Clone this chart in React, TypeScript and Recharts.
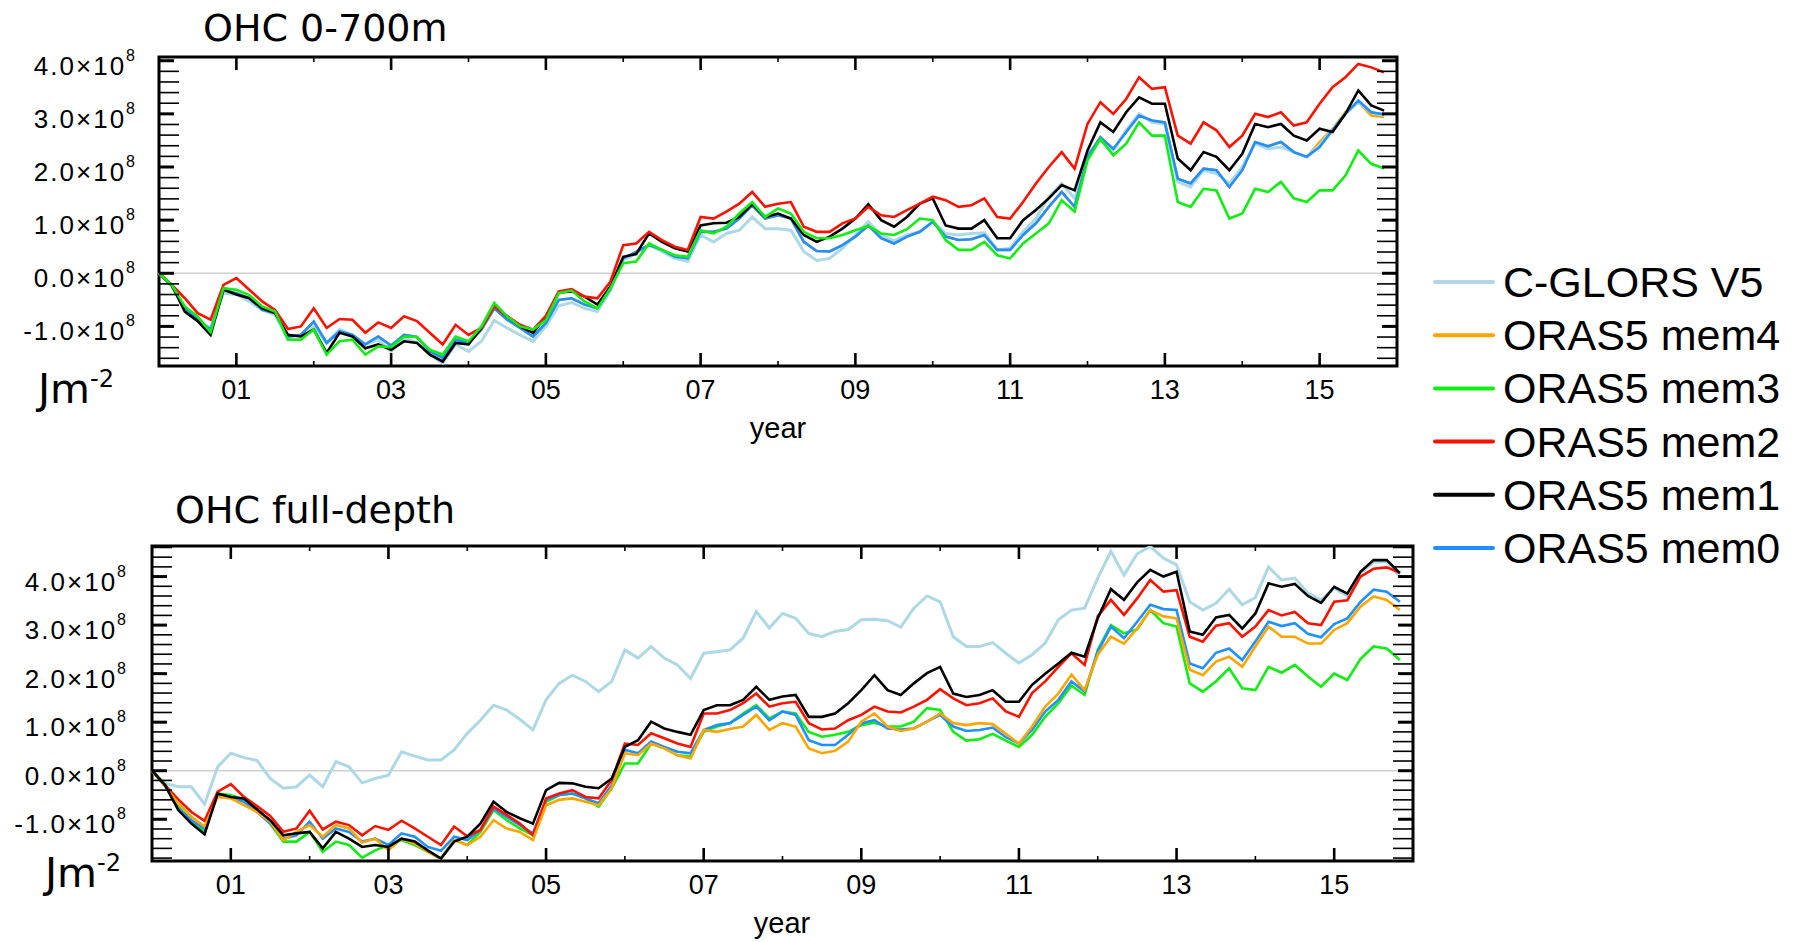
import { LineChart, Line, XAxis, YAxis, ReferenceArea, ReferenceLine } from "recharts";

// monthly-ish sampling grid (every two months, Jan 2000 .. Nov 2015)
const months = Array.from({ length: 96 }, (_, i) => 2000 + i / 6);

const xTicks = [2000, 2001, 2002, 2003, 2004, 2005, 2006, 2007, 2008, 2009, 2010, 2011, 2012, 2013, 2014, 2015, 2016];
const topYTicks = [-1.6, -1.4, -1.2, -1, -0.8, -0.6, -0.4, -0.2, 0, 0.2, 0.4, 0.6, 0.8, 1, 1.2, 1.4, 1.6, 1.8, 2, 2.2, 2.4, 2.6, 2.8, 3, 3.2, 3.4, 3.6, 3.8, 4];
const fullYTicks = [-1.8, -1.6, -1.4, -1.2, -1, -0.8, -0.6, -0.4, -0.2, 0, 0.2, 0.4, 0.6, 0.8, 1, 1.2, 1.4, 1.6, 1.8, 2, 2.2, 2.4, 2.6, 2.8, 3, 3.2, 3.4, 3.6, 3.8, 4, 4.2, 4.4, 4.6];

// OHC 0-700m, units of 1e8 J m-2
const topCglors = [
  0, -0.25, -0.69, -0.9, -1.03, -0.375, -0.4, -0.53, -0.69, -0.78,
  -1.24, -1.25, -1.0, -1.31, -1.06, -1.16, -1.34, -1.25, -1.47, -1.22,
  -1.31, -1.53, -1.69, -1.34, -1.47, -1.28, -0.89, -1.03, -1.16, -1.28,
  -1.0, -0.61, -0.55, -0.66, -0.72, -0.325, 0.25, 0.375, 0.53, 0.41,
  0.28, 0.22, 0.72, 0.59, 0.75, 0.81, 1.06, 0.84, 0.84, 0.81,
  0.41, 0.24, 0.28, 0.47, 0.72, 0.97, 0.72, 0.61, 0.72, 0.78,
  0.97, 0.75, 0.72, 0.75, 0.76, 0.44, 0.47, 0.78, 1.03, 1.44,
  1.69, 1.41, 2.25, 2.5, 2.31, 2.69, 3.0, 2.84, 2.81, 1.72,
  1.625, 1.94, 1.875, 1.69, 2.0, 2.44, 2.34, 2.375, 2.28, 2.19,
  2.41, 2.7, 3.0, 3.22, 3.03, 2.97,
];
const topMem4 = [
  0, -0.24, -0.66, -0.875, -1.06, -0.31, -0.375, -0.47, -0.69, -0.75,
  -1.19, -1.16, -0.91, -1.31, -1.09, -1.16, -1.34, -1.19, -1.36, -1.16,
  -1.2, -1.47, -1.59, -1.25, -1.31, -1.06, -0.66, -0.875, -1.03, -1.19,
  -0.94, -0.5, -0.47, -0.59, -0.66, -0.3, 0.28, 0.4, 0.53, 0.44,
  0.31, 0.28, 0.78, 0.78, 0.84, 1.03, 1.28, 1.03, 1.09, 1.03,
  0.59, 0.42, 0.41, 0.53, 0.69, 0.9, 0.66, 0.56, 0.69, 0.78,
  0.97, 0.69, 0.625, 0.64, 0.72, 0.44, 0.44, 0.72, 0.94, 1.25,
  1.53, 1.25, 2.19, 2.56, 2.34, 2.66, 2.97, 2.875, 2.84, 1.78,
  1.69, 1.97, 1.94, 1.625, 1.94, 2.47, 2.39, 2.47, 2.28, 2.19,
  2.47, 2.72, 3.03, 3.22, 2.97, 2.94,
];
const topMem3 = [
  0, -0.22, -0.625, -0.81, -1.11, -0.28, -0.31, -0.41, -0.625, -0.72,
  -1.25, -1.25, -1.06, -1.53, -1.28, -1.25, -1.53, -1.375, -1.39, -1.19,
  -1.2, -1.44, -1.53, -1.19, -1.28, -1.0, -0.56, -0.81, -1.0, -1.06,
  -0.88, -0.375, -0.325, -0.53, -0.66, -0.28, 0.19, 0.22, 0.56, 0.44,
  0.34, 0.31, 0.81, 0.75, 0.875, 1.125, 1.34, 1.06, 1.22, 1.125,
  0.78, 0.66, 0.66, 0.72, 0.81, 0.89, 0.75, 0.72, 0.83, 1.03,
  1.0, 0.625, 0.44, 0.44, 0.59, 0.34, 0.28, 0.56, 0.75, 0.94,
  1.375, 1.16, 2.125, 2.53, 2.22, 2.44, 2.84, 2.59, 2.59, 1.34,
  1.25, 1.59, 1.56, 1.03, 1.125, 1.59, 1.53, 1.72, 1.41, 1.34,
  1.56, 1.56, 1.84, 2.31, 2.06, 1.97,
];
const topMem2 = [
  0, -0.22, -0.47, -0.75, -0.875, -0.22, -0.09, -0.31, -0.53, -0.69,
  -1.05, -1.0, -0.66, -1.03, -0.86, -0.875, -1.12, -0.925, -1.03, -0.81,
  -0.9, -1.12, -1.34, -0.97, -1.16, -1.03, -0.625, -0.81, -0.97, -1.06,
  -0.8, -0.34, -0.3, -0.44, -0.47, -0.16, 0.53, 0.56, 0.78, 0.625,
  0.5, 0.44, 1.06, 1.03, 1.16, 1.31, 1.53, 1.25, 1.31, 1.34,
  0.875, 0.78, 0.78, 0.94, 1.03, 1.25, 1.09, 1.06, 1.19, 1.31,
  1.44, 1.375, 1.25, 1.28, 1.41, 1.06, 1.03, 1.34, 1.69, 2.0,
  2.28, 1.97, 2.81, 3.22, 3.0, 3.28, 3.69, 3.47, 3.5, 2.59,
  2.44, 2.84, 2.69, 2.375, 2.59, 3.0, 2.94, 3.03, 2.78, 2.84,
  3.19, 3.5, 3.69, 3.94, 3.875, 3.78,
];
const topMem1 = [
  0, -0.22, -0.72, -0.9, -1.16, -0.31, -0.4, -0.47, -0.66, -0.75,
  -1.16, -1.19, -1.06, -1.5, -1.12, -1.19, -1.41, -1.34, -1.44, -1.28,
  -1.31, -1.53, -1.66, -1.31, -1.34, -1.03, -0.6, -0.81, -1.0, -1.12,
  -0.82, -0.36, -0.34, -0.44, -0.59, -0.25, 0.31, 0.36, 0.75, 0.59,
  0.47, 0.41, 0.9, 0.94, 0.95, 1.06, 1.3, 1.06, 1.125, 1.03,
  0.72, 0.59, 0.69, 0.84, 1.03, 1.3, 1.0, 0.875, 1.06, 1.31,
  1.41, 0.9, 0.84, 0.84, 1.0, 0.66, 0.66, 1.0, 1.19, 1.41,
  1.66, 1.56, 2.31, 2.84, 2.66, 3.03, 3.31, 3.19, 3.19, 2.16,
  1.94, 2.28, 2.19, 1.94, 2.25, 2.81, 2.75, 2.81, 2.59, 2.5,
  2.72, 2.66, 3.0, 3.44, 3.16, 3.06,
];
const topMem0 = [
  0, -0.24, -0.66, -0.875, -1.06, -0.31, -0.375, -0.47, -0.69, -0.75,
  -1.19, -1.16, -0.91, -1.31, -1.09, -1.16, -1.34, -1.19, -1.36, -1.16,
  -1.2, -1.47, -1.59, -1.25, -1.31, -1.06, -0.66, -0.875, -1.03, -1.19,
  -0.94, -0.5, -0.47, -0.59, -0.66, -0.3, 0.28, 0.4, 0.53, 0.44,
  0.31, 0.28, 0.78, 0.78, 0.84, 1.03, 1.28, 1.03, 1.09, 1.03,
  0.59, 0.42, 0.41, 0.53, 0.69, 0.9, 0.66, 0.56, 0.69, 0.78,
  0.97, 0.69, 0.625, 0.64, 0.72, 0.44, 0.44, 0.72, 0.94, 1.25,
  1.53, 1.25, 2.19, 2.56, 2.34, 2.66, 2.97, 2.875, 2.84, 1.78,
  1.69, 1.97, 1.94, 1.625, 1.94, 2.47, 2.39, 2.47, 2.28, 2.19,
  2.375, 2.69, 3.0, 3.25, 3.03, 2.99,
];

// OHC full depth, units of 1e8 J m-2
const fullCglors = [
  0, -0.26, -0.33, -0.33, -0.69, 0.08, 0.36, 0.27, 0.21, -0.16,
  -0.36, -0.33, -0.09, -0.33, 0.19, 0.08, -0.25, -0.16, -0.09, 0.39,
  0.3, 0.22, 0.22, 0.43, 0.77, 1.04, 1.35, 1.25, 1.06, 0.84,
  1.46, 1.8, 1.97, 1.84, 1.63, 1.84, 2.49, 2.32, 2.56, 2.32,
  2.18, 1.9, 2.42, 2.45, 2.49, 2.73, 3.28, 2.94, 3.24, 3.14,
  2.83, 2.76, 2.87, 2.91, 3.11, 3.12, 3.09, 2.96, 3.35, 3.6,
  3.48, 2.76, 2.56, 2.56, 2.64, 2.42, 2.22, 2.39, 2.63, 3.11,
  3.31, 3.35, 3.97, 4.52, 4.03, 4.47, 4.62, 4.38, 4.24, 3.48,
  3.31, 3.45, 3.74, 3.42, 3.57, 4.2, 3.93, 3.97, 3.66, 3.52,
  3.76, 3.6, 4.07, 4.3, 4.3, 4.0,
];
const fullMem4 = [
  0, -0.33, -0.67, -0.95, -1.15, -0.54, -0.57, -0.71, -0.85, -1.05,
  -1.43, -1.26, -1.12, -1.36, -1.12, -1.19, -1.48, -1.4, -1.64, -1.4,
  -1.5, -1.67, -1.81, -1.43, -1.53, -1.36, -1.02, -1.19, -1.26, -1.43,
  -0.71, -0.6, -0.57, -0.64, -0.71, -0.36, 0.36, 0.32, 0.56, 0.46,
  0.32, 0.25, 0.84, 0.8, 0.86, 0.91, 1.15, 0.84, 0.98, 0.91,
  0.46, 0.36, 0.41, 0.6, 1.01, 1.18, 0.91, 0.82, 0.87, 1.01,
  1.18, 0.98, 0.94, 0.98, 0.96, 0.76, 0.56, 0.91, 1.32, 1.59,
  1.98, 1.66, 2.39, 2.76, 2.62, 2.93, 3.31, 3.18, 3.14, 2.08,
  1.97, 2.25, 2.35, 2.14, 2.56, 2.97, 2.76, 2.76, 2.62, 2.62,
  2.9, 3.04, 3.38, 3.59, 3.52, 3.31,
];
const fullMem3 = [
  0, -0.28, -0.74, -1.02, -1.26, -0.47, -0.5, -0.6, -0.81, -1.09,
  -1.46, -1.46, -1.26, -1.67, -1.46, -1.53, -1.79, -1.64, -1.53, -1.43,
  -1.53, -1.67, -1.81, -1.43, -1.53, -1.26, -0.81, -1.02, -1.19, -1.33,
  -0.64, -0.5, -0.47, -0.57, -0.74, -0.36, 0.15, 0.15, 0.56, 0.46,
  0.32, 0.29, 0.8, 0.91, 0.98, 1.18, 1.35, 1.08, 1.22, 1.18,
  0.8, 0.7, 0.74, 0.8, 0.94, 0.99, 0.91, 0.91, 1.01, 1.29,
  1.25, 0.8, 0.62, 0.65, 0.76, 0.62, 0.49, 0.74, 1.11, 1.39,
  1.75, 1.56, 2.49, 3.0, 2.83, 2.91, 3.31, 3.04, 2.97, 1.8,
  1.63, 1.84, 2.11, 1.7, 1.66, 2.14, 2.02, 2.18, 1.94, 1.73,
  2.0, 1.87, 2.3, 2.56, 2.52, 2.28,
];
const fullMem2 = [
  0, -0.3, -0.59, -0.85, -1.03, -0.43, -0.275, -0.54, -0.73, -0.93,
  -1.26, -1.19, -0.825, -1.21, -1.05, -1.12, -1.33, -1.14, -1.22, -1.03,
  -1.19, -1.36, -1.53, -1.15, -1.35, -1.22, -0.74, -0.91, -1.09, -1.33,
  -0.57, -0.47, -0.4, -0.54, -0.57, -0.19, 0.56, 0.53, 0.77, 0.67,
  0.56, 0.49, 1.18, 1.18, 1.25, 1.39, 1.59, 1.32, 1.39, 1.42,
  0.98, 0.85, 0.87, 1.04, 1.15, 1.32, 1.22, 1.2, 1.32, 1.46,
  1.68, 1.49, 1.35, 1.39, 1.49, 1.22, 1.11, 1.6, 1.84, 2.14,
  2.42, 2.18, 3.18, 3.52, 3.21, 3.55, 3.93, 3.69, 3.72, 2.76,
  2.66, 2.99, 3.04, 2.76, 2.97, 3.31, 3.2, 3.27, 3.04, 3.0,
  3.48, 3.51, 4.0, 4.16, 4.19, 4.08,
];
const fullMem1 = [
  0, -0.3, -0.81, -1.09, -1.31, -0.47, -0.54, -0.57, -0.8, -1.02,
  -1.33, -1.29, -1.26, -1.6, -1.26, -1.4, -1.57, -1.53, -1.57, -1.4,
  -1.46, -1.64, -1.81, -1.46, -1.36, -1.09, -0.64, -0.85, -0.98, -1.09,
  -0.4, -0.25, -0.26, -0.33, -0.36, -0.16, 0.49, 0.63, 1.01, 0.87,
  0.8, 0.74, 1.25, 1.35, 1.35, 1.46, 1.73, 1.46, 1.53, 1.56,
  1.11, 1.11, 1.18, 1.39, 1.66, 1.97, 1.66, 1.56, 1.8, 2.01,
  2.14, 1.59, 1.52, 1.56, 1.66, 1.42, 1.42, 1.77, 2.0, 2.21,
  2.43, 2.35, 3.14, 3.74, 3.52, 3.88, 4.14, 4.0, 4.1, 2.87,
  2.8, 3.16, 3.21, 2.93, 3.24, 3.86, 3.79, 3.85, 3.6, 3.46,
  3.79, 3.65, 4.1, 4.34, 4.34, 4.07,
];
const fullMem0 = [
  0, -0.3, -0.78, -1.02, -1.19, -0.5, -0.54, -0.64, -0.85, -1.09,
  -1.4, -1.33, -1.05, -1.4, -1.19, -1.26, -1.46, -1.4, -1.53, -1.29,
  -1.36, -1.57, -1.65, -1.36, -1.43, -1.22, -0.78, -0.95, -1.12, -1.29,
  -0.6, -0.5, -0.47, -0.57, -0.67, -0.3, 0.43, 0.36, 0.6, 0.49,
  0.39, 0.36, 0.84, 0.94, 0.98, 1.15, 1.32, 1.04, 1.22, 1.15,
  0.63, 0.53, 0.53, 0.74, 0.98, 1.04, 0.87, 0.85, 0.87, 1.01,
  1.15, 0.91, 0.82, 0.84, 0.89, 0.69, 0.56, 0.84, 1.22, 1.46,
  1.84, 1.63, 2.45, 2.97, 2.73, 3.07, 3.42, 3.33, 3.31, 2.21,
  2.11, 2.43, 2.52, 2.28, 2.66, 3.07, 2.98, 3.04, 2.82, 2.75,
  3.02, 3.14, 3.48, 3.73, 3.69, 3.48,
];

const SERIES = {
  cglors: { name: "C-GLORS V5", color: "#ADD8E6", width: 3 },
  mem4: { name: "ORAS5 mem4", color: "#FFA500", width: 2.6 },
  mem3: { name: "ORAS5 mem3", color: "#11EE11", width: 2.6 },
  mem2: { name: "ORAS5 mem2", color: "#FF1100", width: 2.6 },
  mem1: { name: "ORAS5 mem1", color: "#000000", width: 2.6 },
  mem0: { name: "ORAS5 mem0", color: "#1E90FF", width: 2.6 },
};
type Key = keyof typeof SERIES;
const LEGEND_ORDER: Key[] = ["cglors", "mem4", "mem3", "mem2", "mem1", "mem0"];

const topRows = months.map((t, i) => ({
  t,
  cglors: topCglors[i],
  mem4: topMem4[i],
  mem3: topMem3[i],
  mem2: topMem2[i],
  mem1: topMem1[i],
  mem0: topMem0[i],
}));
const fullRows = months.map((t, i) => ({
  t,
  cglors: fullCglors[i],
  mem4: fullMem4[i],
  mem3: fullMem3[i],
  mem2: fullMem2[i],
  mem1: fullMem1[i],
  mem0: fullMem0[i],
}));

const LABEL_FONT = "'Liberation Sans', Arial, sans-serif";
const TITLE_FONT = "'DejaVu Sans', Verdana, sans-serif";

interface Plot {
  x0: number;
  y0: number;
  width: number;
  height: number;
  left: number;
  right: number;
  top: number;
  bottom: number;
  yMin: number;
  yMax: number;
  yTicks: number[];
  labelGap: number;
}

const TOP: Plot = {
  x0: 0, y0: 0, width: 1420, height: 420,
  left: 159, right: 1397, top: 57, bottom: 366,
  yMin: -1.745, yMax: 4.07, yTicks: topYTicks, labelGap: 22,
};
const FULL: Plot = {
  x0: 0, y0: 480, width: 1430, height: 462,
  left: 152, right: 1413, top: 66, bottom: 381,
  yMin: -1.86, yMax: 4.63, yTicks: fullYTicks, labelGap: 24,
};

// year ticks on bottom and top edges, labels on odd years
function XTick(props: any) {
  const { plot, payload } = props;
  const v = payload.value as number;
  const cx = props.x as number;
  if (v <= 2000 || v >= 2016) return <g />;
  const major = v % 2 === 1;
  const len = major ? 13 : 5;
  const w = major ? 2.6 : 1.6;
  return (
    <g>
      <line x1={cx} x2={cx} y1={plot.bottom} y2={plot.bottom - len} stroke="#000" strokeWidth={w} />
      <line x1={cx} x2={cx} y1={plot.top} y2={plot.top + len} stroke="#000" strokeWidth={w} />
      {major && (
        <text x={cx} y={plot.bottom + 33} textAnchor="middle" fontSize={27} fontFamily={LABEL_FONT} fill="#000">
          {String(v - 2000).padStart(2, "0")}
        </text>
      )}
    </g>
  );
}

// value ticks on both sides, scientific labels on whole numbers
function YTick(props: any) {
  const { plot, payload } = props;
  const v = payload.value as number;
  const cy = props.y as number;
  const major = Math.abs(v - Math.round(v)) < 1e-6;
  const len = major ? 15 : 20;
  const w = major ? 3 : 1.6;
  return (
    <g>
      <line x1={plot.left} x2={plot.left + len} y1={cy} y2={cy} stroke="#000" strokeWidth={w} />
      <line x1={plot.right} x2={plot.right - len} y1={cy} y2={cy} stroke="#000" strokeWidth={w} />
      {major && (
        <text
          x={plot.left - plot.labelGap}
          y={cy + 14}
          textAnchor="end"
          fontSize={26}
          letterSpacing={2}
          fontFamily={LABEL_FONT}
          fill="#000"
        >
          {`${(Math.abs(v) < 1e-9 ? 0 : v).toFixed(1)}×10`}
          <tspan dy={-14} fontSize={16}>8</tspan>
        </text>
      )}
    </g>
  );
}

function OhcPanel({ rows, plot, order }: { rows: any[]; plot: Plot; order: Key[] }) {
  const margin = {
    top: plot.top,
    left: plot.left - 1,
    right: plot.width - plot.right,
    bottom: plot.height - plot.bottom - 1,
  };
  return (
    <div style={{ position: "absolute", left: plot.x0, top: plot.y0 }}>
      <LineChart width={plot.width} height={plot.height} data={rows} margin={margin}>
        <XAxis
          dataKey="t"
          type="number"
          domain={[2000, 2016]}
          ticks={xTicks}
          interval={0}
          height={1}
          axisLine={false}
          tickLine={false}
          tick={<XTick plot={plot} />}
        />
        <YAxis
          type="number"
          domain={[plot.yMin, plot.yMax]}
          allowDataOverflow
          ticks={plot.yTicks}
          interval={0}
          width={1}
          axisLine={false}
          tickLine={false}
          tick={<YTick plot={plot} />}
        />
        <ReferenceLine y={0} stroke="#cfcfcf" strokeWidth={1.5} />
        {order.map((k) => (
          <Line
            key={k}
            type="linear"
            dataKey={k}
            name={SERIES[k].name}
            stroke={SERIES[k].color}
            strokeWidth={SERIES[k].width}
            dot={false}
            activeDot={false}
            isAnimationActive={false}
          />
        ))}
        <ReferenceArea
          x1={2000}
          x2={2016}
          y1={plot.yMin}
          y2={plot.yMax}
          fill="none"
          fillOpacity={0}
          stroke="#000"
          strokeWidth={3}
          ifOverflow="visible"
        />
      </LineChart>
    </div>
  );
}

function Annotations() {
  return (
    <svg
      width={1802}
      height={942}
      style={{ position: "absolute", left: 0, top: 0, pointerEvents: "none" }}
    >
      <text x={203} y={41} fontSize={38} fontFamily={TITLE_FONT}>OHC 0-700m</text>
      <text x={175} y={523} fontSize={38} fontFamily={TITLE_FONT}>OHC full-depth</text>

      <text x={38} y={403} fontSize={41} fontFamily={TITLE_FONT}>
        Jm<tspan dy={-16} fontSize={24}>-2</tspan>
      </text>
      <text x={45} y={887} fontSize={41} fontFamily={TITLE_FONT}>
        Jm<tspan dy={-16} fontSize={24}>-2</tspan>
      </text>

      <text x={778} y={438} fontSize={29} textAnchor="middle" fontFamily={LABEL_FONT}>year</text>
      <text x={782} y={933} fontSize={29} textAnchor="middle" fontFamily={LABEL_FONT}>year</text>

      {LEGEND_ORDER.map((k, i) => {
        const cy = 282 + i * 53.2;
        return (
          <g key={k}>
            <line x1={1435} x2={1493} y1={cy} y2={cy} stroke={SERIES[k].color} strokeWidth={4} strokeLinecap="round" />
            <text x={1503} y={cy + 15} fontSize={43} fontFamily={LABEL_FONT} fill="#000">
              {SERIES[k].name}
            </text>
          </g>
        );
      })}
    </svg>
  );
}

export default function App() {
  return (
    <div
      style={{
        position: "absolute",
        left: 0,
        top: 0,
        width: 1802,
        height: 942,
        background: "#fff",
        overflow: "hidden",
      }}
    >
      <OhcPanel rows={topRows} plot={TOP} order={["mem4", "cglors", "mem0", "mem1", "mem2", "mem3"]} />
      <OhcPanel rows={fullRows} plot={FULL} order={["cglors", "mem3", "mem0", "mem2", "mem4", "mem1"]} />
      <Annotations />
    </div>
  );
}
